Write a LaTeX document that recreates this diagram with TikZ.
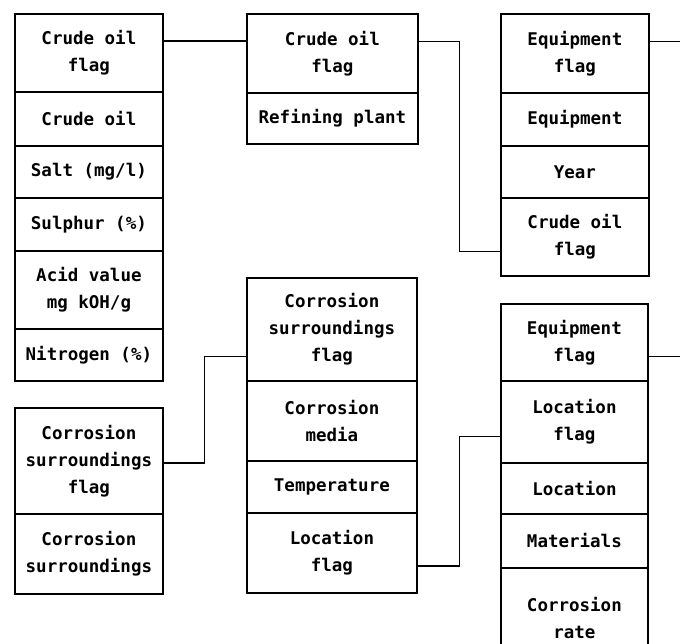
\documentclass[tikz,border=0pt]{standalone}
\usepackage{fontspec}
\newfontfamily\cellfont{DejaVu Sans Mono}
\usetikzlibrary{calc}

\tikzset{
  cellbox/.style={draw, line width=1.8pt, rectangle, inner sep=0pt, anchor=north west,
    align=center, font=\cellfont\bfseries\fontsize{17.5}{27}\selectfont},
  link/.style={draw, line width=1.3pt}
}
% \cell{name}{x,y of top-left}{width}{height}{text}
\newcommand\cell[5]{\node[cellbox, minimum width=#3pt, minimum height=#4pt] (#1) at (#2) {#5};}

\begin{document}
\begin{tikzpicture}[x=1pt,y=-1pt]
\useasboundingbox (0,0) rectangle (680,643);

% crude oil record
\cell{lA}{14,13}{148}{78}{Crude oil\\flag}
\cell{lB}{14,91}{148}{54}{Crude oil}
\cell{lC}{14,145}{148}{52}{Salt (mg/l)}
\cell{lD}{14,197}{148}{53}{Sulphur (\%)}
\cell{lE}{14,250}{148}{78}{Acid value\\mg kOH/g}
\cell{lF}{14,328}{148}{52}{Nitrogen (\%)}

% corrosion surroundings record
\cell{sA}{14,407}{148}{106}{Corrosion\\surroundings\\flag}
\cell{sB}{14,513}{148}{80}{Corrosion\\surroundings}

% refining plant record
\cell{mA}{246,13}{171}{79}{Crude oil\\flag}
\cell{mB}{246,92}{171}{51}{Refining plant}

% corrosion media record
\cell{cA}{246,277}{170}{103}{Corrosion\\surroundings\\flag}
\cell{cB}{246,380}{170}{80}{Corrosion\\media}
\cell{cC}{246,460}{170}{52}{Temperature}
\cell{cD}{246,512}{170}{80}{Location\\flag}

% equipment record
\cell{rA}{500,13}{148}{79}{Equipment\\flag}
\cell{rB}{500,92}{148}{53}{Equipment}
\cell{rC}{500,145}{148}{52}{Year}
\cell{rD}{500,197}{148}{78}{Crude oil\\flag}

% location record
\cell{tA}{500,303}{147}{77}{Equipment\\flag}
\cell{tB}{500,380}{147}{82}{Location\\flag}
\cell{tC}{500,462}{147}{51}{Location}
\cell{tD}{500,513}{147}{54}{Materials}
\cell{tE}{500,567}{147}{100}{Corrosion\\rate}

% attachment points of the links
\coordinate (lAo) at ($(lA.north east)!0.35!(lA.south east)$);
\coordinate (mAo) at ($(mA.north east)!0.35!(mA.south east)$);
\coordinate (rDi) at ($(rD.north west)!0.68!(rD.south west)$);
\coordinate (rAo) at ($(rA.north east)!0.35!(rA.south east)$);
\coordinate (sAo) at ($(sA.north east)!0.52!(sA.south east)$);
\coordinate (cAi) at ($(cA.north west)!0.76!(cA.south west)$);
\coordinate (cDo) at ($(cD.north east)!0.66!(cD.south east)$);
\coordinate (tBi) at ($(tB.north west)!0.67!(tB.south west)$);
\coordinate (tAo) at ($(tA.north east)!0.68!(tA.south east)$);

% links between records
\draw[link] (lAo) -- (lAo -| mA.west);
\draw[link] (mAo) -- ++(41,0) |- (rDi);
\draw[link] (rAo) -- ++(34,0) coordinate (rAend);
\draw[link] (sAo) -- ++(41,0) |- (cAi);
\draw[link] (cDo) -- ++(42,0) |- (tBi);
\draw[link] (tAo) -- ++(35,0) coordinate (tAend);
\end{tikzpicture}
\end{document}
